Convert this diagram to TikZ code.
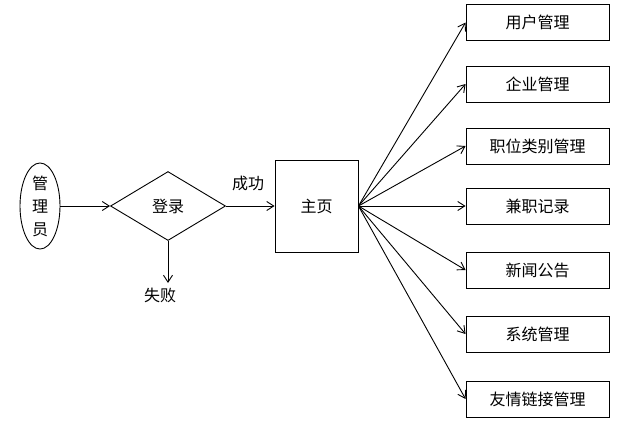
\documentclass[tikz,border=0pt]{standalone}
\usepackage{fontspec}
\setmainfont{Noto Sans CJK SC}
\usetikzlibrary{shapes.geometric,arrows.meta}
\begin{document}
\begin{tikzpicture}[x=1bp,y=-1bp,
  every node/.style={font=\fontsize{16bp}{19bp}\selectfont, inner sep=0pt},
  box/.style={draw, line width=0.9bp, minimum width=143bp, minimum height=36bp},
  arr/.style={line width=0.9bp, -{Straight Barb[length=7bp,width=9bp]}}]
\useasboundingbox (0,0) rectangle (630,421);
\node[draw, ellipse, line width=0.9bp, minimum width=40bp, minimum height=75bp, align=center, font=\fontsize{16bp}{23bp}\selectfont] (admin) at (40,206) {管\\理\\员};
\node[draw, diamond, aspect=1.67, line width=0.9bp, minimum width=115bp, minimum height=69bp, inner sep=0pt] (login) at (168,206) {};
\node at (168,206) {登录};
\node[draw, line width=0.9bp, minimum width=83bp, minimum height=92bp] (home) at (316.5,206) {主页};
\node (fail) at (160,295) {失败};
\coordinate (failend) at (168,283);
\node (succ) at (248,183) {成功};
\node[box] (b1) at (537.5,22.5) {用户管理};
\node[box] (b2) at (537.5,84) {企业管理};
\node[box] (b3) at (537.5,146) {职位类别管理};
\node[box] (b4) at (537.5,206) {兼职记录};
\node[box] (b5) at (537.5,270) {新闻公告};
\node[box] (b6) at (537.5,334) {系统管理};
\node[box] (b7) at (537.5,399) {友情链接管理};
\draw[arr] (admin.east) -- (login.west);
\draw[arr] (login.east) -- (home.west);
\draw[arr] (login.south) -- (failend);
\foreach \b in {b1,b2,b3,b4,b5,b6,b7}
  \draw[arr] (home.east) -- (\b.west);
\end{tikzpicture}
\end{document}
